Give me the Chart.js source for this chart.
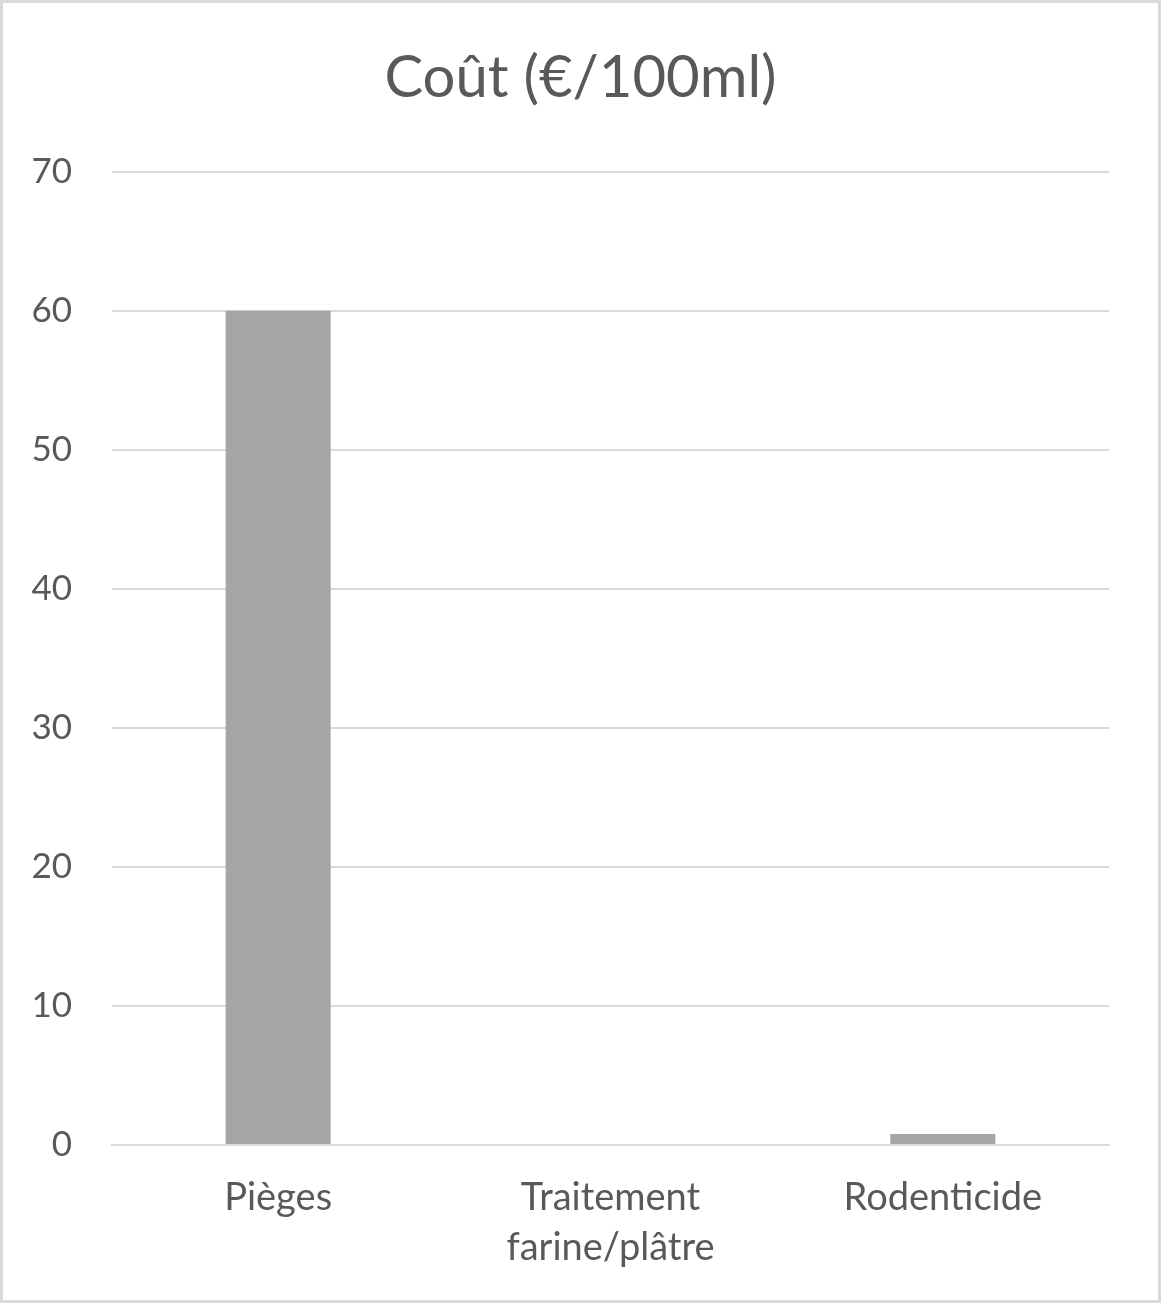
<!DOCTYPE html>
<html>
<head>
<meta charset="utf-8">
<script src="https://cdn.jsdelivr.net/npm/chart.js@4"></script>
<style>
html,body{margin:0;padding:0;background:#fff;}
#wrap{position:relative;width:1161px;height:1303px;box-sizing:border-box;border:3px solid #d9d9d9;background:#fff;}
canvas{position:absolute;left:-3px;top:-3px;}
</style>
</head>
<body>
<div id="wrap"><canvas id="c" width="1161" height="1303"></canvas></div>
<script>
const titleText = "Coût (€/100ml)";
const categories = [["Pièges"], ["Traitement", "farine/plâtre"], ["Rodenticide"]];
const costValues = [60, 0, 0.8];
const yTicks = [0, 10, 20, 30, 40, 50, 60, 70];

const FONT = "Lato, 'Open Sans', sans-serif";
const TXT = "#595959";

new Chart(document.getElementById('c'), {
  type: 'bar',
  data: {
    labels: categories,
    datasets: [{
      label: titleText,
      data: costValues,
      backgroundColor: '#a5a5a5',
      borderWidth: 0,
      categoryPercentage: 1.0,
      barPercentage: 0.316
    }]
  },
  options: {
    responsive: false,
    animation: false,
    devicePixelRatio: 1,
    layout: { padding: 0 },
    plugins: {
      legend: { display: false },
      tooltip: { enabled: false },
      title: {
        display: true,
        text: titleText,
        color: TXT,
        font: { family: FONT, size: 58, weight: 'normal' },
        padding: { top: 43, bottom: 59 }
      }
    },
    scales: {
      x: {
        grid: { display: false, drawTicks: false },
        border: { display: true, color: '#d9d9d9', width: 2 },
        ticks: {
          color: TXT,
          font: { family: FONT, size: 38, lineHeight: 1.32 },
          padding: 28,
          maxRotation: 0,
          autoSkip: false
        },
        afterFit: s => { s.height = 158; }
      },
      y: {
        min: 0, max: 70,
        afterBuildTicks: s => { s.ticks = yTicks.map(v => ({ value: v })); },
        grid: { color: '#d9d9d9', lineWidth: 2, drawTicks: false },
        border: { display: false },
        ticks: {
          color: TXT,
          font: { family: FONT, size: 35 },
          padding: 40
        },
        afterFit: s => { s.width = 112; }
      },
      yRight: {
        position: 'right',
        min: 0, max: 70,
        grid: { display: false, drawTicks: false },
        border: { display: false },
        ticks: { display: false },
        afterFit: s => { s.width = 52; }
      }
    }
  }
});
</script>
</body>
</html>
